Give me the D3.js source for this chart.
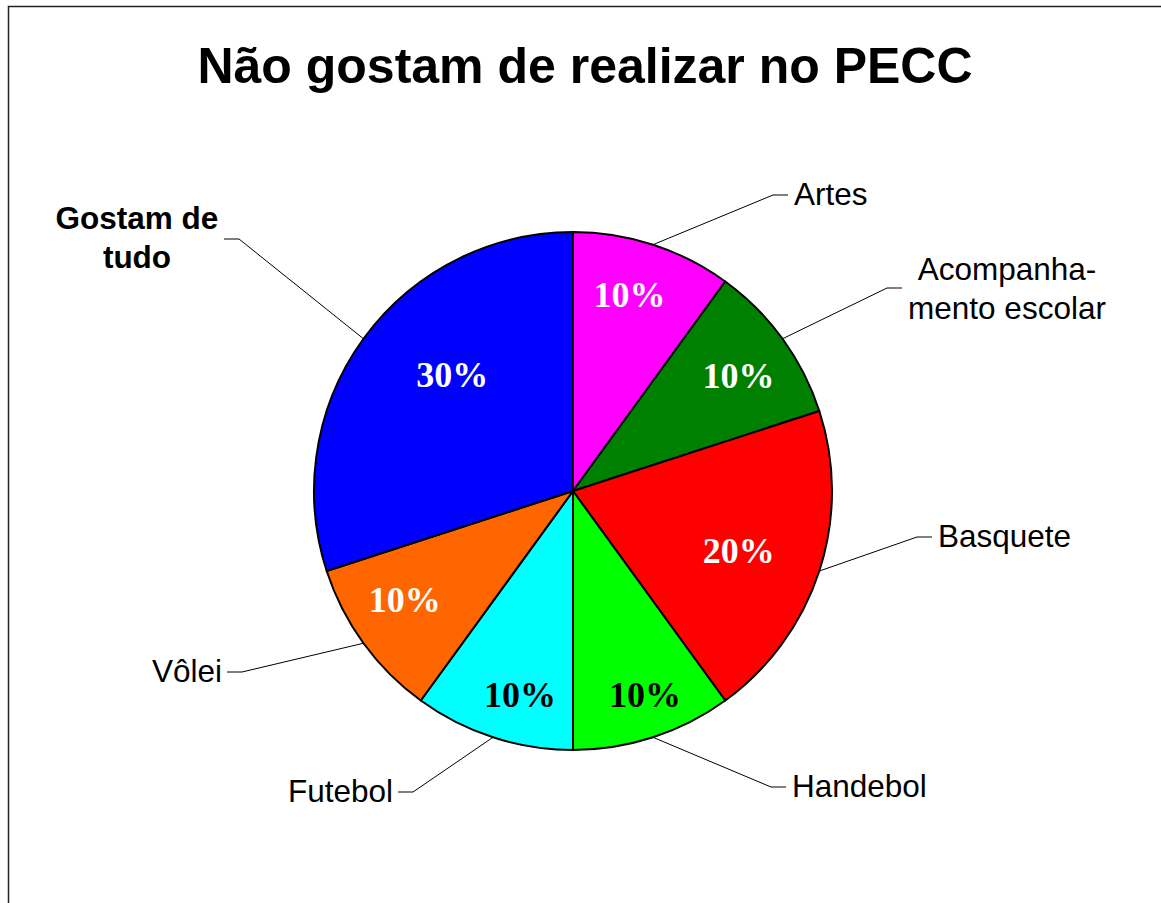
<!DOCTYPE html>
<html lang="pt">
<head>
    <meta charset="UTF-8">
    <title>Não gostam de realizar no PECC</title>
    <script src="https://d3js.org/d3.v7.min.js"></script>
    <style>
        body { margin: 0; background: #fff; }
        svg { display: block; }
    </style>
</head>
<body>
<svg id="chart" width="1161" height="903"></svg>
<script>
    // Data
    const categories = ['Artes', 'Acompanhamento escolar', 'Basquete', 'Handebol', 'Futebol', 'Vôlei', 'Gostam de tudo'];
    const values = [10, 10, 20, 10, 10, 10, 30];
    const colors = ['#FF00FF', '#008000', '#FF0000', '#00FF00', '#00FFFF', '#FF6600', '#0000FF'];
    const labelLines = [['Artes'], ['Acompanha-', 'mento escolar'], ['Basquete'], ['Handebol'], ['Futebol'], ['Vôlei'], ['Gostam de', 'tudo']];

    // Layout: where each leader line turns horizontal, and label placement
    const anchors = [
        { x: 773, y: 195, side: 'right' },
        { x: 887, y: 288, side: 'right', center: 1007, top: 280 },
        { x: 917, y: 537, side: 'right' },
        { x: 771, y: 787, side: 'right' },
        { x: 413, y: 792, side: 'left' },
        { x: 242, y: 672, side: 'left' },
        { x: 239, y: 239, side: 'left', center: 137, top: 229, bold: true }
    ];
    // percent label placement (radius, angle in degrees from north)
    const pctPlace = [[205, 16], [202, 55], [176, 109.6], [216, 160.5], [210, 194.6], [200, 237.3], [168, 314]];

    const svg = d3.select('#chart');
    const cx = 573, cy = 491, r = 259;

    svg.append('rect')
        .attr('x', 8.5).attr('y', 6.5)
        .attr('width', 1200).attr('height', 1000)
        .attr('fill', 'none').attr('stroke', '#222').attr('stroke-width', 1.5);

    svg.append('text')
        .attr('x', 585).attr('y', 83)
        .attr('text-anchor', 'middle')
        .attr('font-family', 'Liberation Sans, Arial, sans-serif')
        .attr('font-weight', 'bold').attr('font-size', 50)
        .text('Não gostam de realizar no PECC');

    const data = categories.map((c, i) => ({ name: c, value: values[i], i }));
    const pie = d3.pie().sort(null).value(d => d.value);
    const arcs = pie(data);
    const arc = d3.arc().innerRadius(0).outerRadius(r);

    const g = svg.append('g').attr('transform', `translate(${cx},${cy})`);

    g.selectAll('path.slice')
        .data(arcs)
        .enter().append('path')
        .attr('class', 'slice')
        .attr('d', arc)
        .attr('fill', d => colors[d.data.i])
        .attr('stroke', '#000')
        .attr('stroke-width', 2)
        .attr('stroke-linejoin', 'round');

    // percent labels
    const total = d3.sum(values);
    g.selectAll('text.pct')
        .data(arcs)
        .enter().append('text')
        .attr('class', 'pct')
        .attr('transform', d => {
            const [rr, deg] = pctPlace[d.data.i];
            const a = deg * Math.PI / 180;
            return `translate(${rr * Math.sin(a)},${-rr * Math.cos(a)})`;
        })
        .attr('text-anchor', 'middle')
        .attr('dy', '0.35em')
        .attr('font-family', 'Liberation Serif, Times New Roman, serif')
        .attr('font-weight', 'bold').attr('font-size', 36)
        .attr('fill', d => (d.data.i === 3 || d.data.i === 4) ? '#000' : '#fff')
        .text(d => Math.round(d.value / total * 100) + '%');

    // leader lines and category labels
    arcs.forEach(d => {
        const a = (d.startAngle + d.endAngle) / 2;
        const an = anchors[d.data.i];
        const sx = cx + r * Math.sin(a), sy = cy - r * Math.cos(a);
        const hx = an.side === 'right' ? an.x + 15 : an.x - 15;
        svg.append('polyline')
            .attr('points', `${sx},${sy} ${an.x},${an.y} ${hx},${an.y}`)
            .attr('fill', 'none').attr('stroke', '#000').attr('stroke-width', 1);

        const lines = labelLines[d.data.i];
        const t = svg.append('text')
            .attr('font-family', 'Liberation Sans, Arial, sans-serif')
            .attr('font-size', 31.5)
            .attr('font-weight', an.bold ? 'bold' : 'normal')
            .attr('fill', '#000');
        if (lines.length > 1) {
            t.attr('text-anchor', 'middle');
            lines.forEach((s, k) => {
                t.append('tspan').attr('x', an.center).attr('y', an.top + k * 39).text(s);
            });
        } else {
            t.attr('x', an.side === 'right' ? hx + 6 : hx - 5)
                .attr('y', an.y + 10)
                .attr('text-anchor', an.side === 'right' ? 'start' : 'end')
                .text(lines[0]);
        }
    });
</script>
</body>
</html>
